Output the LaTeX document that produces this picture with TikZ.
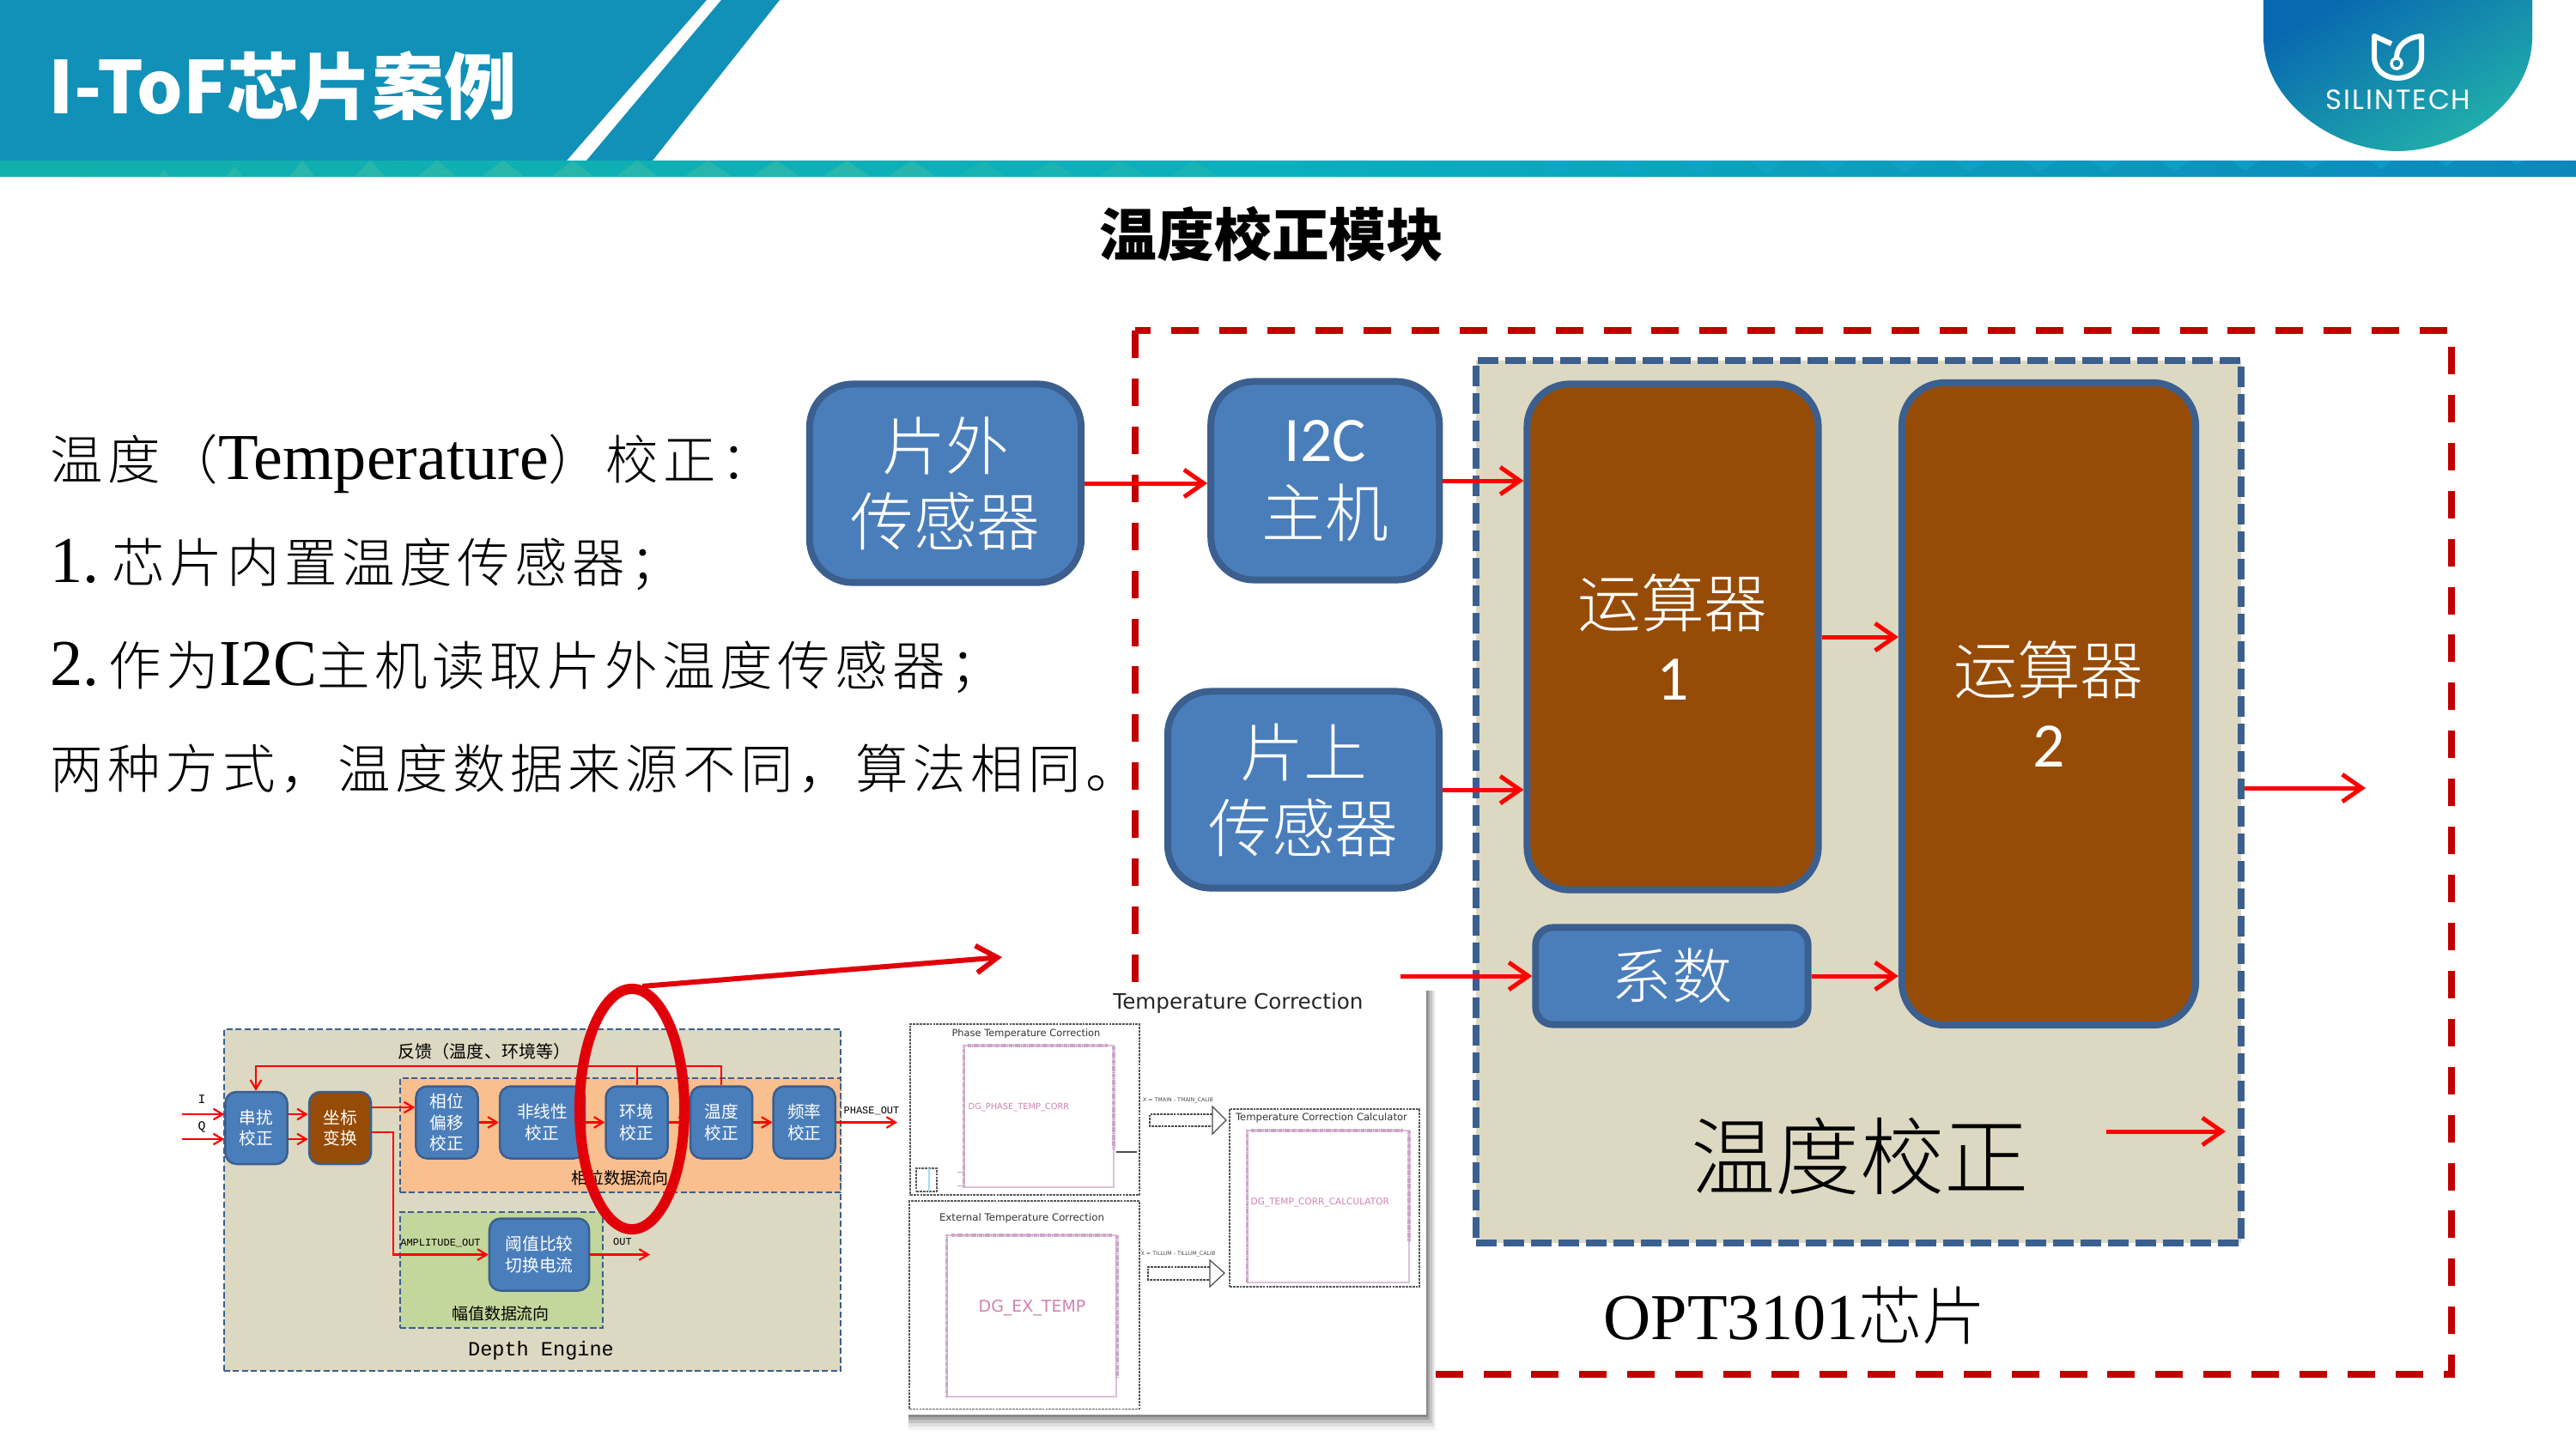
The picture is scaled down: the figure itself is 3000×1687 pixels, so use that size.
\documentclass[tikz,border=0pt]{standalone}
\usepackage{fontspec}
\setmainfont{Liberation Serif}
\newfontfamily\cjk{Noto Sans CJK SC}
\newfontfamily\cjkblack{Noto Sans CJK SC Black}
\newfontfamily\cjklight{Noto Sans CJK SC Light}
\newfontfamily\cjkwide[LetterSpace=8.9]{Noto Sans CJK SC Light}
\newfontfamily\carlito{Carlito}
\newfontfamily\dejavu{DejaVu Sans}
\newfontfamily\mono{Liberation Mono}
\newfontfamily\logofont[LetterSpace=6]{Poppins}
\usetikzlibrary{arrows.meta,positioning,shapes.geometric,calc}
\definecolor{headblue}{RGB}{17,144,184}
\definecolor{stripteal}{RGB}{18,176,172}
\definecolor{stripmid}{RGB}{10,176,190}
\definecolor{stripblue}{RGB}{14,135,187}
\definecolor{wavegreen}{RGB}{58,186,166}
\definecolor{waveblue}{RGB}{16,168,208}
\definecolor{logoblue}{RGB}{8,104,176}
\definecolor{logoteal}{RGB}{34,178,170}
\definecolor{blockblue}{RGB}{74,126,187}
\definecolor{blockedge}{RGB}{59,95,142}
\definecolor{alubrown}{RGB}{150,75,6}
\definecolor{tanfill}{RGB}{220,216,194}
\definecolor{orangefill}{RGB}{250,191,143}
\definecolor{greenfill}{RGB}{195,214,155}
\definecolor{arrowred}{RGB}{255,0,0}
\definecolor{dashred}{RGB}{192,0,0}
\definecolor{ringred}{RGB}{225,0,10}
\definecolor{pinpink}{RGB}{205,165,200}
\definecolor{textpink}{RGB}{208,130,176}
\newcommand{\sz}[2]{\fontsize{#1pt}{#2pt}\selectfont}
\newcommand{\lat}[1]{{\normalfont\sz{21.7}{24}#1}}
\tikzset{
  bigblock/.style={draw=blockedge,fill=blockblue,line width=.08cm,rounded corners=.5cm,text=white,align=center,inner sep=0pt,font=\cjklight\sz{21}{25}},
  alublock/.style={bigblock,fill=alubrown,font=\cjklight\sz{21}{24.2}},
  tinyblock/.style={draw=blockedge,fill=blockblue,line width=.025cm,rounded corners=.13cm,text=white,align=center,inner sep=0pt,minimum width=.72cm,minimum height=.84cm,font=\cjk\sz{5.6}{7}},
  zone/.style={draw=blockedge,line width=.02cm,dashed,dash pattern=on 2pt off 1pt},
  redarrow/.style={draw=arrowred,line width=.05cm,-{Straight Barb[length=6.5pt,width=9pt]}},
  tinyarrow/.style={draw=arrowred,line width=.022cm,-{Straight Barb[length=3pt,width=3.6pt]}},
  tinyline/.style={draw=arrowred,line width=.022cm},
  sheetbox/.style={draw=black!65,line width=.012cm,dash pattern=on .8pt off .3pt},
  pinbox/.style={draw=pinpink!70,line width=.012cm},
  pinrow/.style={draw=pinpink,line width=.035cm,dash pattern=on .5pt off .15pt},
  bodytext/.style={anchor=base west,inner sep=0pt,font=\cjkwide\sz{17.5}{22}},
  monolabel/.style={inner sep=0pt,font=\mono\sz{3.4}{4}},
  flowlabel/.style={inner sep=0pt,font=\cjk\sz{5.4}{6}},
  sheettitle/.style={inner sep=0pt,text=black!80,font=\dejavu\sz{3.25}{4}},
  pintext/.style={inner sep=0pt,text=textpink,font=\dejavu\sz{2.8}{4}},
  hollowarrow/.style={draw=black!70,fill=white,line width=.012cm},
}
\begin{document}
\begin{tikzpicture}[x=.01cm,y=-.01cm]
  \useasboundingbox (0,0) rectangle (3000,1687);
  % header band
  \fill[headblue] (0,0) -- (823,0) -- (660,187) -- (0,187) -- cycle;
  \fill[headblue] (840,0) -- (908,0) -- (760,187) -- (683,187) -- cycle;
  \shade[left color=stripteal,right color=stripblue,middle color=stripmid] (0,187) rectangle (3000,205);
  \fill[wavegreen,opacity=.6] (185,205) -- (191,198) -- (197,205) -- cycle (264,205) -- (273,194) -- (282,205) -- cycle
    (338,205) -- (352,187) -- (366,205) -- cycle (413,205) -- (431,187) -- (449,205) -- cycle
    (487,205) -- (509,187) -- (531,205) -- cycle (562,205) -- (586,187) -- (610,205) -- cycle
    (643,205) -- (667,187) -- (691,205) -- cycle (718,205) -- (742,187) -- (766,205) -- cycle
    (798,205) -- (825,187) -- (852,205) -- cycle (877,205) -- (904,187) -- (931,205) -- cycle
    (959,205) -- (986,187) -- (1013,205) -- cycle (1035,205) -- (1062,187) -- (1089,205) -- cycle;
  \fill[wavegreen,opacity=.3] (1117,205) -- (1144,187) -- (1171,205) -- cycle (1198,205) -- (1225,187) -- (1252,205) -- cycle
    (1279,205) -- (1306,187) -- (1333,205) -- cycle (1363,205) -- (1390,187) -- (1417,205) -- cycle;
  \fill[waveblue,opacity=.5] (1796,187) -- (1816,203) -- (1836,187) -- cycle (1875,187) -- (1895,203) -- (1915,187) -- cycle
    (1957,187) -- (1977,203) -- (1997,187) -- cycle (2037,187) -- (2057,203) -- (2077,187) -- cycle
    (2113,187) -- (2133,201) -- (2153,187) -- cycle (2198,187) -- (2218,201) -- (2238,187) -- cycle
    (2274,187) -- (2294,200) -- (2314,187) -- cycle (2355,187) -- (2375,200) -- (2395,187) -- cycle
    (2434,187) -- (2452,200) -- (2470,187) -- cycle (2515,187) -- (2533,200) -- (2551,187) -- cycle
    (2599,187) -- (2615,199) -- (2631,187) -- cycle (2675,187) -- (2691,197) -- (2707,187) -- cycle
    (2759,187) -- (2773,197) -- (2787,187) -- cycle (2839,187) -- (2849,194) -- (2859,187) -- cycle
    (2923,187) -- (2931,192) -- (2939,187) -- cycle;
  \node[anchor=west,inner sep=0pt,text=white,font=\cjkblack\sz{24}{28}] (headtitle) at (56,100) {I-ToF芯片案例};
  \shade[top color=logoblue,bottom color=logoteal,shading angle=30] (2636,0) -- (2636,43)
    .. controls (2636,120) and (2720,176) .. (2792,176)
    .. controls (2865,176) and (2949,120) .. (2949,43) -- (2949,0) -- cycle;
  \draw[white,line width=.06cm,line join=round] (2785,51) -- (2765,42) -- (2765,66)
    .. controls (2765,82) and (2778,91) .. (2792,91)
    .. controls (2807,91) and (2820,82) .. (2820,66) -- (2820,42)
    .. controls (2805,43) and (2791,52) .. (2791,67);
  \node[circle,draw=white,line width=.035cm,minimum size=.12cm,inner sep=0pt] (logodot) at (2791,74) {};
  \node[inner sep=0pt,text=white,font=\logofont\sz{9.2}{11}] (logotext) at (2793,116) {SILINTECH};

  \node[inner sep=0pt,font=\cjk\bfseries\sz{19}{22}] (pagetitle) at (1481,273) {温度校正模块};

  % left text
  \node[bodytext] (line1) at (58,558) {温度（\lat{Temperature}）校正：};
  \node[bodytext] (line2) at (58,678) {\lat{1.}\hspace{4pt}芯片内置温度传感器；};
  \node[bodytext] (line3) at (58,798) {\lat{2.}\hspace{3pt}作为\lat{I2C}主机读取片外温度传感器；};
  \node[bodytext] (line4) at (58,918) {两种方式，温度数据来源不同，算法相同。};

  % chip
  \draw[dashred,line width=.08cm,dash pattern=on 9.1pt off 6.8pt] (1322,385) rectangle (2855,1601);
  \node[draw=blockedge,fill=tanfill,line width=.08cm,dash pattern=on 6.8pt off 2.3pt,minimum width=8.9cm,minimum height=10.28cm] (tempblock) at (2164.5,934) {};
  \node[bigblock,minimum width=3.16cm,minimum height=2.31cm] (offsensor) at (1101,563) {片外\\传感器};
  \node[bigblock,minimum width=2.66cm,minimum height=2.31cm,right=1.43cm of offsensor,yshift=.03cm] (i2c) {{\carlito I2C}\\主机};
  \node[bigblock,minimum width=3.16cm,minimum height=2.29cm] (onsensor) at (1518,920) {片上\\传感器};
  \node[alublock,minimum width=3.39cm,minimum height=5.89cm] (alua) at (1948,742) {运算器\\{\carlito 1}};
  \node[alublock,minimum width=3.42cm,minimum height=7.48cm] (alub) at (2386,820) {运算器\\{\carlito 2}};
  \node[bigblock,rounded corners=.2cm,minimum width=3.17cm,minimum height=1.13cm,font=\cjklight\sz{20}{24}] (coef) at (1947,1137) {系数};
  \node[inner sep=0pt,font=\cjklight\sz{28}{32}] (templabel) at (2166,1347) {温度校正};
  \node[anchor=west,inner sep=0pt,font=\cjklight\sz{21}{24}] (chiplabel) at (1867,1532) {\lat{OPT3101}芯片};

  \coordinate (coefin) at (1631,1137);
  \coordinate (outend) at (2755,918);
  \coordinate (tempa) at (2453,1318);
  \coordinate (tempb) at (2592,1318);
  \draw[redarrow] (offsensor.east) -- (offsensor.east -| i2c.west);
  \draw[redarrow] (i2c.east) -- (i2c.east -| alua.west);
  \draw[redarrow] (onsensor.east) -- (onsensor.east -| alua.west);
  \draw[redarrow] (alua.east) -- (alua.east -| alub.west);
  \draw[redarrow] (coef.east) -- (coef.east -| alub.west);
  \draw[redarrow] (coefin) -- (coef.west);
  \draw[redarrow] (outend -| tempblock.east) -- (outend);
  \draw[redarrow] (tempa) -- (tempb);

  % depth engine
  \node[zone,fill=tanfill,minimum width=7.18cm,minimum height=3.98cm] (engine) at (620,1398) {};
  \node[zone,fill=orangefill,minimum width=5.13cm,minimum height=1.33cm] (phasezone) at (722.5,1322.5) {};
  \node[zone,fill=greenfill,minimum width=2.36cm,minimum height=1.35cm] (ampzone) at (584,1479.5) {};
  \node[tinyblock] (crosstalk) at (298.5,1314) {串扰\\校正};
  \node[tinyblock,fill=alubrown,right=.23cm of crosstalk] (polar) {坐标\\变换};
  \node[tinyblock] (phaseoff) at (520.5,1307.5) {相位\\偏移\\校正};
  \node[tinyblock,minimum width=.99cm,right=.23cm of phaseoff] (nonlin) {非线性\\校正};
  \node[tinyblock,right=.22cm of nonlin] (ambient) {环境\\校正};
  \node[tinyblock,right=.24cm of ambient] (tempfix) {温度\\校正};
  \node[tinyblock,right=.22cm of tempfix] (freqfix) {频率\\校正};
  \node[tinyblock,minimum width=1.16cm] (thresh) at (628,1461.5) {阈值比较\\切换电流};

  \coordinate (iin) at (212,1298);
  \coordinate (qin) at (212,1327);
  \coordinate (polarhi) at (433,1290);
  \coordinate (polarlo) at (433,1319);
  \coordinate (ampturn) at (458,1319);
  \coordinate (phaseend) at (1045,1307);
  \coordinate (outtip) at (757,1461);
  \coordinate (fbleft) at (298,1242);
  \draw[tinyarrow] (iin) -- (iin -| crosstalk.west);
  \draw[tinyarrow] (qin) -- (qin -| crosstalk.west);
  \draw[tinyarrow] (iin -| crosstalk.east) -- (iin -| polar.west);
  \draw[tinyarrow] (qin -| crosstalk.east) -- (qin -| polar.west);
  \draw[tinyarrow] (polarhi) -- (polarhi -| phaseoff.west);
  \draw[tinyarrow] (phaseoff.east) -- (phaseoff.east -| nonlin.west);
  \draw[tinyarrow] (nonlin.east) -- (nonlin.east -| ambient.west);
  \draw[tinyarrow] (ambient.east) -- (ambient.east -| tempfix.west);
  \draw[tinyarrow] (tempfix.east) -- (tempfix.east -| freqfix.west);
  \draw[tinyarrow] (freqfix.east) -- (freqfix.east -| phaseend);
  \draw[tinyarrow] (polarlo) -- (ampturn) -- (ampturn |- thresh.west) -- (thresh.west);
  \draw[tinyarrow] (thresh.east) -- (thresh.east -| outtip);
  \draw[tinyline] (ambient.north) -- (ambient.north |- fbleft);
  \draw[tinyarrow] (tempfix.north) -- (tempfix.north |- fbleft) -- (fbleft) -- (fbleft |- crosstalk.north);

  \node[monolabel] (ilabel) at (235,1281) {\sz{4.2}{5}I};
  \node[monolabel] (qlabel) at (235,1313) {\sz{4.2}{5}Q};
  \node[flowlabel,font=\cjk\sz{5.7}{6}] (fblabel) at (564,1225) {反馈（温度、环境等）};
  \node[flowlabel] (phaseflow) at (722,1372) {相位数据流向};
  \node[flowlabel] (ampflow) at (583,1530) {幅值数据流向};
  \node[monolabel] (phaseout) at (1015,1294) {PHASE\_OUT};
  \node[monolabel] (ampout) at (513,1448) {AMPLITUDE\_OUT};
  \node[monolabel] (plainout) at (725,1447) {OUT};
  \node[inner sep=0pt,font=\mono\sz{6.7}{8}] (enginelabel) at (630,1573) {Depth Engine};

  % temperature correction sheet
  \fill[black,opacity=.05] (1058,1154) rectangle (1672,1666);
  \fill[black,opacity=.08] (1058,1154) rectangle (1670,1662);
  \fill[black,opacity=.12] (1058,1154) rectangle (1668,1658);
  \fill[black,opacity=.15] (1058,1154) rectangle (1665,1654);
  \fill[black,opacity=.18] (1058,1154) rectangle (1663,1651);
  \fill[white] (1053,1148) rectangle (1661,1648);
  \node[inner sep=0pt,text=black!85,font=\dejavu\sz{7}{8}] (sheettitle) at (1442,1169) {Temperature Correction};

  \node[sheetbox,minimum width=2.67cm,minimum height=1.99cm] (phasebox) at (1193.5,1292.5) {};
  \node[sheettitle] (phasetitle) at (1195,1204) {Phase Temperature Correction};
  \node[pinbox,minimum width=1.74cm,minimum height=1.65cm] (phasecore) at (1210,1300.5) {};
  \node[pintext,anchor=west] (phasetext) at (1127,1290) {DG\_PHASE\_TEMP\_CORR};
  \draw[pinrow] (1127,1218) -- (1290,1218);
  \draw[pinrow] (phasecore.north west) -- (phasecore.south west);
  \draw[pinrow] (1297,1219) -- (1297,1339);
  \draw[black!70,line width=.025cm] (1300,1342) -- (1324,1342);
  \draw[black!30,line width=.01cm] (1115,1365) -- (1122,1365);
  \draw[black!30,line width=.01cm] (1115,1381) -- (1122,1381);
  \node[sheetbox,minimum width=.24cm,minimum height=.27cm] (smallbox) at (1079,1374.5) {};
  \draw[cyan!40,line width=.012cm] (1082,1361) -- (1082,1388);

  \node[sheetbox,minimum width=2.68cm,minimum height=2.42cm] (extbox) at (1193,1520) {};
  \node[sheettitle,font=\dejavu\sz{3.35}{4}] (exttitle) at (1190,1419) {External Temperature Correction};
  \node[pinbox,minimum width=1.97cm,minimum height=1.88cm] (extcore) at (1201.5,1533) {};
  \node[pintext,font=\dejavu\sz{5.4}{6}] (exttext) at (1202,1524) {DG\_EX\_TEMP};
  \draw[pinrow] (1108,1439) -- (1295,1439);
  \draw[pinrow] (extcore.north west) -- (extcore.south west);
  \draw[pinrow] (1301,1439) -- (1301,1605);

  \node[sheetbox,minimum width=2.21cm,minimum height=2.07cm] (calcbox) at (1542.5,1395.5) {};
  \node[sheettitle,font=\dejavu\sz{3.3}{4}] (calctitle) at (1539,1302.5) {Temperature Correction Calculator};
  \node[pinbox,minimum width=1.88cm,minimum height=1.77cm] (calccore) at (1547,1405.5) {};
  \node[pintext,font=\dejavu\sz{3}{4},anchor=west] (calctext) at (1456,1401) {DG\_TEMP\_CORR\_CALCULATOR};
  \draw[pinrow] (1457,1317) -- (1634,1317);
  \draw[pinrow] (calccore.north west) -- (calccore.south west);
  \draw[pinrow] (1641,1317) -- (1641,1446);

  \draw[hollowarrow,dash pattern=on .8pt off .3pt] (1412,1298) -- (1339,1298) -- (1339,1312) -- (1412,1312);
  \draw[hollowarrow] (1412,1289) -- (1428,1305) -- (1412,1321) -- cycle;
  \draw[hollowarrow,dash pattern=on .8pt off .3pt] (1409,1476) -- (1337,1476) -- (1337,1491) -- (1409,1491);
  \draw[hollowarrow] (1409,1468) -- (1426,1483) -- (1409,1499) -- cycle;
  \node[inner sep=0pt,text=black!70,font=\dejavu\sz{1.8}{2}] (xmain) at (1372,1282) {X = TMAIN - TMAIN\_CALIB};
  \node[inner sep=0pt,text=black!70,font=\dejavu\sz{1.8}{2}] (xillum) at (1372,1461) {X = TILLUM - TILLUM\_CALIB};

  % ring and pointer
  \node[ellipse,draw=ringred,line width=.12cm,minimum width=1.22cm,minimum height=2.8cm,inner sep=0pt] (ring) at (736,1292) {};
  \coordinate (pointer) at (1167,1115);
  \draw[draw=ringred,line width=.06cm,-{Straight Barb[length=7pt,width=9pt]}] (ring.north) ++(12,3) -- (pointer);
\end{tikzpicture}
\end{document}
